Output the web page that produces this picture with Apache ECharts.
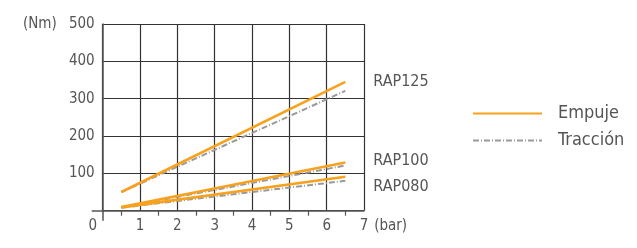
<!DOCTYPE html>
<html><head><meta charset="utf-8">
<script src="https://cdn.jsdelivr.net/npm/echarts@6/dist/echarts.min.js"></script>
<style>html,body{margin:0;padding:0;background:#fff}#c{width:637px;height:248px}</style>
</head><body><div id="c"></div>
<script>
const models = ['RAP125', 'RAP100', 'RAP080'];
const pressure = [0.5, 6.5];
const empuje = [[50, 345], [10, 129], [9, 91]];
const traccion = [[50, 321], [9, 121], [8, 80]];
const xTicks = [0, 1, 2, 3, 4, 5, 6, 7];
const yTicks = [0, 100, 200, 300, 400, 500];
const labelOffsetY = [0, -2, 10];

const FONT = "'DejaVu Sans Condensed', 'Liberation Sans Narrow', sans-serif";
const TXT = '#555';
const ORANGE = '#F8A11D';
const GRAY = '#9a9a9a';
const AX = 15;

const series = [];
models.forEach((m, i) => {
  series.push({
    name: 'Empuje', type: 'line', symbol: 'none', z: 3,
    data: pressure.map((p, j) => [p, empuje[i][j]]),
    lineStyle: { color: ORANGE, width: 2.6 }, itemStyle: { color: ORANGE },
    endLabel: { show: true, formatter: m, distance: 28, offset: [0, labelOffsetY[i]],
      color: TXT, fontFamily: FONT, fontSize: AX + 1 }
  });
  series.push({
    name: 'Tracción', type: 'line', symbol: 'none', z: 2,
    data: pressure.map((p, j) => [p, traccion[i][j]]),
    lineStyle: { color: GRAY, width: 2, type: [6, 2, 1, 2] }, itemStyle: { color: GRAY }
  });
});

const tickLine = { color: '#555', width: 1.5 };
const chart = echarts.init(document.getElementById('c'));
chart.setOption({
  animation: false,
  textStyle: { fontFamily: FONT },
  grid: { left: 102.7, top: 24, width: 261.3, height: 186.7, containLabel: false },
  legend: {
    orient: 'vertical', left: 467, top: 98, itemWidth: 69, itemHeight: 14, itemGap: 6,
    data: ['Empuje', 'Tracción'],
    itemStyle: { opacity: 0 },
    textStyle: { color: TXT, fontSize: 18, lineHeight: 21, fontFamily: FONT, padding: [0, 0, 0, 11] }
  },
  xAxis: [{
    type: 'value', min: xTicks[0], max: xTicks[xTicks.length - 1], interval: 1,
    name: '(bar)', nameLocation: 'end', nameGap: 10,
    nameTextStyle: { color: TXT, fontSize: AX, fontFamily: FONT, verticalAlign: 'top', padding: [8, 0, 0, 0] },
    axisLine: { show: true, lineStyle: tickLine },
    axisTick: { show: false },
    minorTick: { show: true, splitNumber: 2, length: 5, lineStyle: { color: '#555', width: 1.2 } },
    splitLine: { show: true, lineStyle: { color: '#333', width: 1.2 } },
    axisLabel: {
      color: TXT, fontSize: AX, margin: 8, fontFamily: FONT,
      formatter: v => v === 0 ? '{o|0}' : String(v),
      rich: { o: { color: TXT, fontSize: AX, fontFamily: FONT, padding: [0, 20, 0, 0] } }
    }
  }, {
    type: 'value', min: xTicks[0], max: xTicks[xTicks.length - 1], interval: 1, position: 'bottom',
    axisLine: { show: false }, axisLabel: { show: false }, splitLine: { show: false },
    axisTick: { show: true, customValues: [0], length: 10, lineStyle: tickLine }
  }],
  yAxis: [{
    type: 'value', min: yTicks[0], max: yTicks[yTicks.length - 1], interval: 100,
    name: '(Nm)', nameLocation: 'end', nameGap: 0,
    nameTextStyle: { color: TXT, fontSize: AX, fontFamily: FONT, align: 'right', verticalAlign: 'middle', padding: [0, 46, 0, 0] },
    axisLine: { show: true, lineStyle: tickLine },
    axisTick: { show: false },
    splitLine: { show: true, lineStyle: { color: '#333', width: 1.2 } },
    axisLabel: { color: TXT, fontSize: AX, margin: 8, fontFamily: FONT,
      formatter: v => v === 0 ? '' : String(v) }
  }, {
    type: 'value', min: yTicks[0], max: yTicks[yTicks.length - 1], interval: 100, position: 'left',
    axisLine: { show: false }, axisLabel: { show: false }, splitLine: { show: false },
    axisTick: { show: true, customValues: [0], length: 11, lineStyle: tickLine }
  }],
  series
});
</script></body></html>
